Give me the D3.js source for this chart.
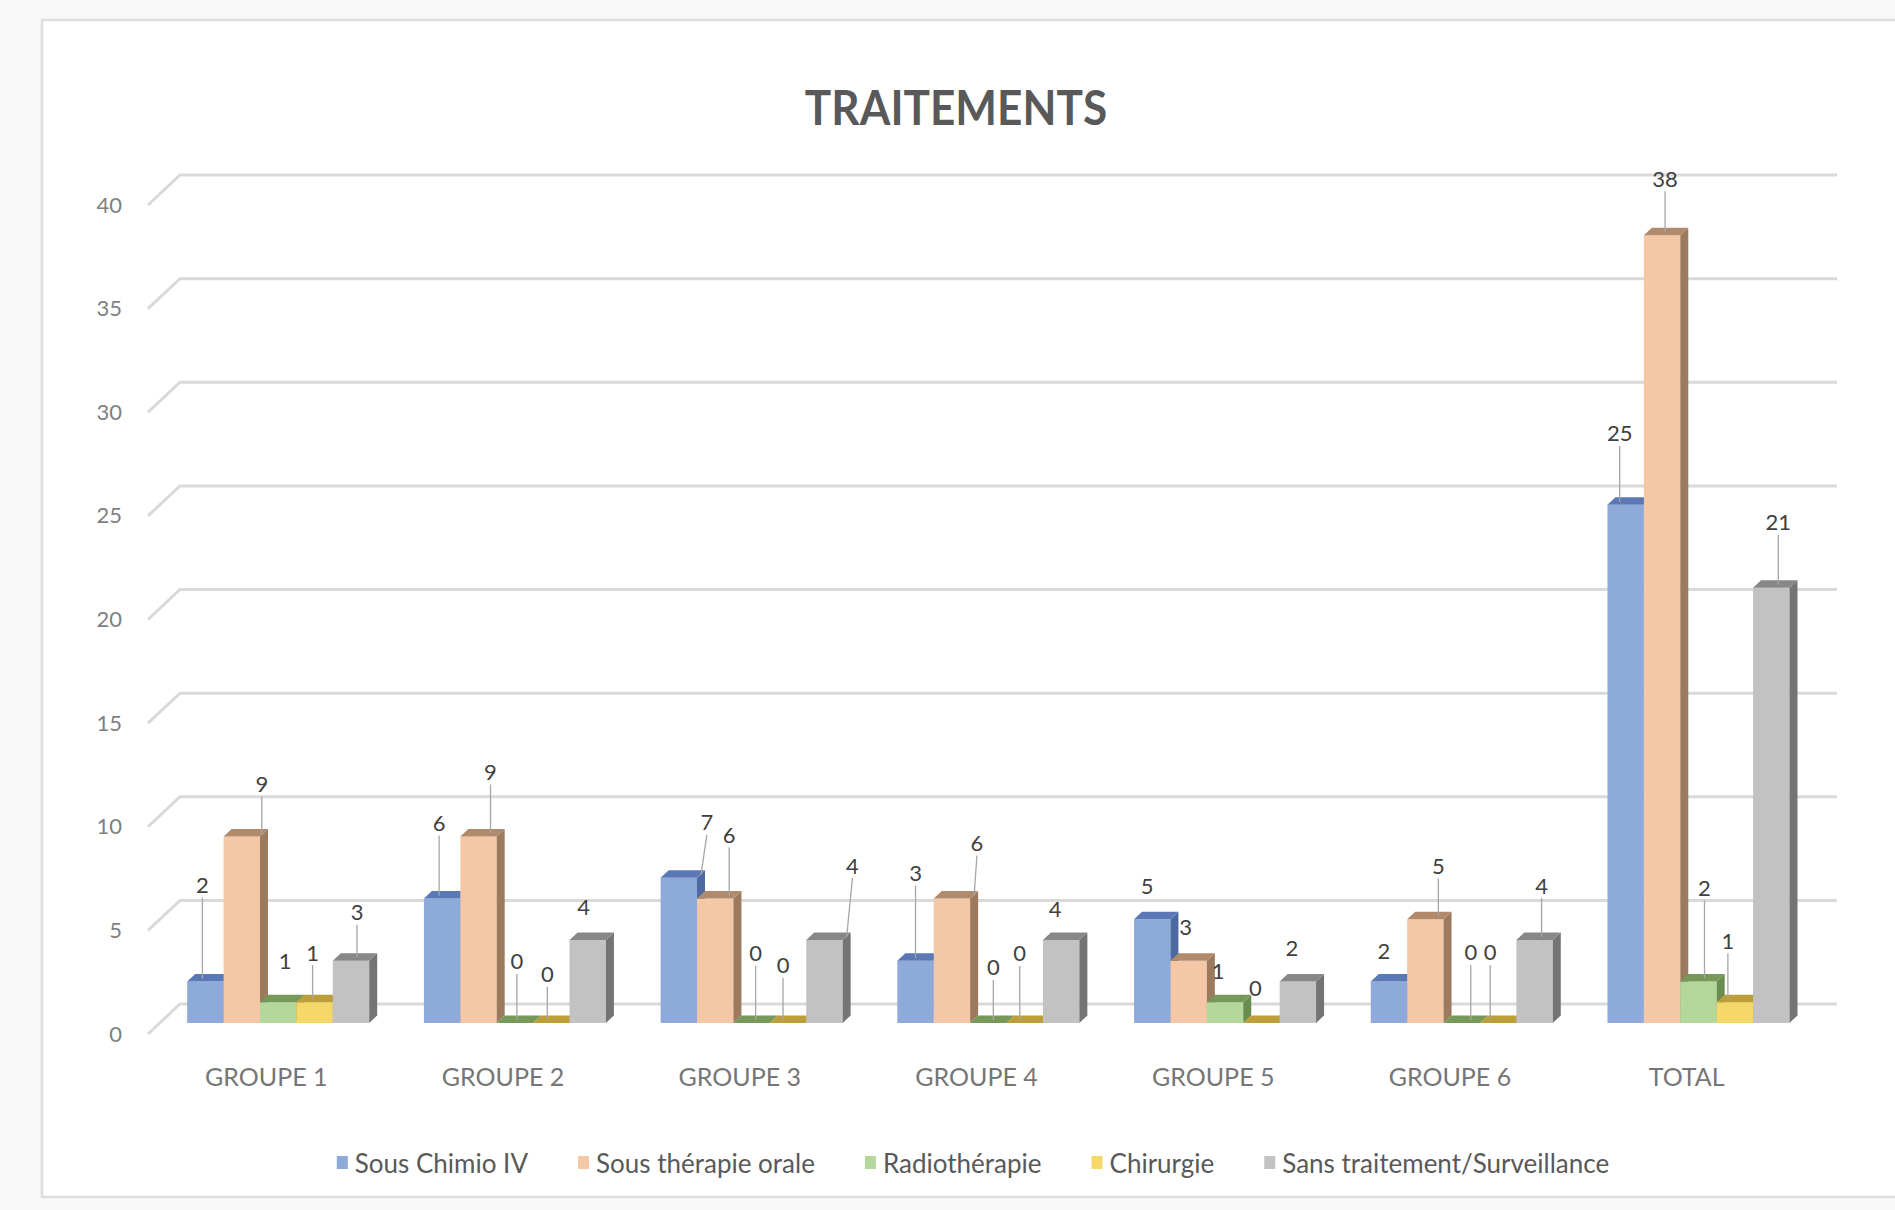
<!DOCTYPE html>
<html>
<head>
<meta charset="utf-8">
<title>TRAITEMENTS</title>
<script src="https://cdn.jsdelivr.net/npm/d3@7"></script>
<style>
  html, body { margin: 0; padding: 0; background: #f8f8f8; }
  svg { display: block; }
</style>
</head>
<body>
<svg id="chart" width="1895" height="1210"></svg>
<script>
// ---- data ----
const categories = ["GROUPE 1", "GROUPE 2", "GROUPE 3", "GROUPE 4", "GROUPE 5", "GROUPE 6", "TOTAL"];
const seriesNames = ["Sous Chimio IV", "Sous thérapie orale", "Radiothérapie", "Chirurgie", "Sans traitement/Surveillance"];
const chimioIV       = [2, 6, 7, 3, 5, 2, 25];
const therapieOrale  = [9, 9, 6, 6, 3, 5, 38];
const radiotherapie  = [1, 0, 0, 0, 1, 0, 2];
const chirurgie      = [1, 0, 0, 0, 0, 0, 1];
const sansTraitement = [3, 4, 4, 4, 2, 4, 21];
const yTicks = [0, 5, 10, 15, 20, 25, 30, 35, 40];

// ---- styling ----
const faceColors = [
  { front: "#8eaadb", top: "#5a78b5", side: "#4d69a2" },
  { front: "#f4c7a6", top: "#b08a6a", side: "#9c7a5e" },
  { front: "#b4d89c", top: "#76995a", side: "#688d4e" },
  { front: "#f6d76a", top: "#bd9f3a", side: "#ad902f" },
  { front: "#c2c2c2", top: "#878787", side: "#747474" }
];

// data-label nudges (px) from the top-centre of each column, per series
const labelNudge = [
  [[-3, -97], [-3, -76], [28, -56], [0, -88], [-5, -34], [-5, -31], [-6, -72]],
  [[20, -53], [12, -65], [14, -64], [25, -56], [-3, -34], [13, -54], [3, -57]],
  [[7, -42], [2, -62], [4, -70], [5, -56], [-7, -32], [9, -71], [6, -94]],
  [[-2, -50], [-4, -49], [-5, -58], [-5, -70], [-6, -35], [-8, -71], [-7, -62]],
  [[6, -49], [-4, -34], [28, -75], [-6, -32], [-6, -34], [7, -55], [7, -66]]
];

const seriesValues = [chimioIV, therapieOrale, radiotherapie, chirurgie, sansTraitement];
const FONT = "Lato, 'Open Sans', sans-serif";

const svg = d3.select("#chart");

// chart area frame
svg.append("rect")
  .attr("x", 42).attr("y", 20)
  .attr("width", 1900).attr("height", 1177)
  .attr("fill", "#ffffff")
  .attr("stroke", "#dedede").attr("stroke-width", 2.5);

// ---- 3D projection ----
const wallDx = 32, wallDy = -30;          // offset from front edge to back wall
const zFront = 0.37, zBack = 0.62;        // depth of column faces

const y = d3.scaleLinear().domain([0, 40]).range([1034, 205]);
const x = d3.scaleBand().domain(categories).range([148, 1805])
  .paddingInner(0.231).paddingOuter(0.1155);
const xs = d3.scaleBand().domain(d3.range(seriesNames.length)).range([0, x.bandwidth()]).padding(0);

const proj = (px, v, z) => [px + z * wallDx, y(v) + z * wallDy];

// ---- gridlines: left wall + back wall ----
const gridG = svg.append("g");
gridG.selectAll("path").data(yTicks).join("path")
  .attr("d", v => {
    const a = proj(x.range()[0], v, 0);
    const b = proj(x.range()[0], v, 1);
    const c = proj(x.range()[1], v, 1);
    return d3.line()([a, b, c]);
  })
  .attr("fill", "none")
  .attr("stroke", "#d9d9d9")
  .attr("stroke-width", 3);

// ---- value axis ----
const yAxis = svg.append("g")
  .attr("transform", "translate(122,0)")
  .call(d3.axisLeft(y).tickValues(yTicks).tickSize(0).tickPadding(0));
yAxis.select(".domain").remove();
yAxis.selectAll("text")
  .attr("font-family", FONT).attr("font-size", 22)
  .attr("fill", "#7f7f7f");

// ---- category axis ----
const xAxis = svg.append("g")
  .attr("transform", "translate(0,1077)")
  .call(d3.axisBottom(x).tickSize(0).tickPadding(0));
xAxis.select(".domain").remove();
xAxis.selectAll("text")
  .attr("font-family", FONT).attr("font-size", 25)
  .attr("fill", "#767676")
  .attr("dy", "0.35em");

// ---- columns ----
const poly = pts => "M" + pts.map(p => p.join(",")).join("L") + "Z";
const barsG = svg.append("g");
const labelsG = svg.append("g");

categories.forEach((cat, ci) => {
  seriesNames.forEach((name, si) => {
    const v = seriesValues[si][ci];
    const x0 = x(cat) + xs(si);
    const x1 = x0 + xs.bandwidth();
    const col = faceColors[si];
    const g = barsG.append("g");
    if (v > 0) {
      g.append("path")
        .attr("d", poly([proj(x0, 0, zFront), proj(x1, 0, zFront), proj(x1, v, zFront), proj(x0, v, zFront)]))
        .attr("fill", col.front);
      g.append("path")
        .attr("d", poly([proj(x1, 0, zFront), proj(x1, 0, zBack), proj(x1, v, zBack), proj(x1, v, zFront)]))
        .attr("fill", col.side);
    }
    g.append("path")
      .attr("d", poly([proj(x0, v, zFront), proj(x1, v, zFront), proj(x1, v, zBack), proj(x0, v, zBack)]))
      .attr("fill", col.top);

    // data label with leader line down to the column top
    const [tx, ty] = proj((x0 + x1) / 2, v, zFront);
    const [dx, dy] = labelNudge[si][ci];
    const lx = tx + dx, ly = ty + dy;
    if (Math.abs(dy) > 44) {
      const [fx0] = proj(x0, v, zFront);
      const [fx1] = proj(x1, v, zBack);
      const endX = Math.max(fx0 + 4, Math.min(fx1 - 4, lx));
      labelsG.append("line")
        .attr("x1", lx).attr("y1", ly + 13)
        .attr("x2", endX).attr("y2", ty - 3)
        .attr("stroke", "#a6a6a6").attr("stroke-width", 1.3);
    }
    labelsG.append("text")
      .attr("x", lx).attr("y", ly)
      .attr("text-anchor", "middle")
      .attr("dominant-baseline", "central")
      .attr("font-family", FONT).attr("font-size", 22)
      .attr("fill", "#404040")
      .text(v);
  });
});

// ---- title ----
svg.append("text")
  .attr("transform", "translate(956,106) scale(0.92,1)")
  .attr("text-anchor", "middle")
  .attr("dominant-baseline", "central")
  .attr("font-family", FONT).attr("font-weight", "bold").attr("font-size", 48)
  .attr("fill", "#595959")
  .text("TRAITEMENTS");

// ---- legend ----
const legendG = svg.append("g");
const items = legendG.selectAll("g").data(seriesNames).join("g");
items.append("rect")
  .attr("width", 11).attr("height", 13)
  .attr("y", -7)
  .attr("fill", (d, i) => faceColors[i].front);
items.append("text")
  .attr("x", 18)
  .attr("dominant-baseline", "central")
  .attr("font-family", FONT).attr("font-size", 26)
  .attr("fill", "#595959")
  .text(d => d);
let cursor = 0;
items.each(function () {
  const w = 18 + d3.select(this).select("text").node().getComputedTextLength();
  d3.select(this).attr("transform", `translate(${cursor},0)`);
  cursor += w + 50;
});
const totalW = cursor - 50;
legendG.attr("transform", `translate(${973 - totalW / 2},1163)`);
</script>
</body>
</html>
